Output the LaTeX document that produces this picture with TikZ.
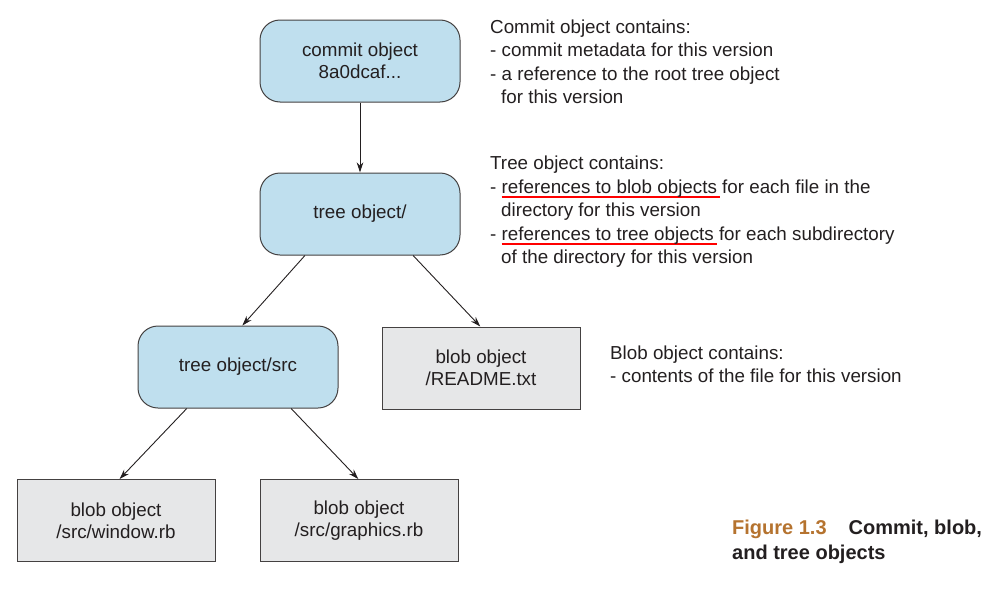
\documentclass[tikz,border=0pt]{standalone}
\usepackage{fontspec}
\setmainfont{Liberation Sans}
\usetikzlibrary{arrows.meta}
\definecolor{boxblue}{HTML}{BFDFEE}
\definecolor{boxgray}{HTML}{E6E7E8}
\definecolor{ink}{HTML}{231F20}
\definecolor{figbrown}{HTML}{B5732F}
\newcommand\redul[1]{\setbox0\hbox{#1}\rlap{\color{red}\rule[-5pt]{\dimexpr\wd0+3pt\relax}{1.7pt}}\box0\relax}
\begin{document}
\begin{tikzpicture}[x=1pt,y=-1pt,
  every node/.style={text=ink,font=\fontsize{18.8}{22}\selectfont},
  objbox/.style={draw=ink!85,line width=1pt,minimum width=200pt,minimum height=82pt,align=center,inner sep=0pt},
  treebox/.style={objbox,fill=boxblue,rounded corners=20pt},
  blobbox/.style={objbox,fill=boxgray,minimum width=198pt},
  note/.style={anchor=base west,align=left,inner sep=0pt,font=\fontsize{18.8}{23.5}\selectfont},
  link/.style={draw=ink,line width=0.9pt,-{Stealth[length=10pt,width=6.5pt]}}
]
\useasboundingbox (0,0) rectangle (996,589);
\node[treebox] (commit) at (360,61) {commit object\\8a0dcaf...};
\node[treebox] (tree) at (360,214) {tree object/};
\node[treebox] (src) at (238,367) {tree object/src};
\node[blobbox] (readme) at (481,368) {blob object\\/README.txt};
\node[blobbox] (window) at (116,520.5) {blob object\\/src/window.rb};
\node[blobbox] (graphics) at (359,520.5) {blob object\\/src/graphics.rb};

\draw[link] (commit) -- (tree);
\draw[link] (tree.-143.3) -- (src.84.7);
\draw[link] (tree.-38.8) -- (readme.91.4);
\draw[link] (src.-141.7) -- (window.85);
\draw[link] (src.-38.3) -- (graphics.91);

\node[note] (commitnote) at (490,103.5) {Commit object contains:\\- commit metadata for this version\\- a reference to the root tree object\\\hspace*{11pt}for this version};
\node[note] (treenote) at (490,263.5) {Tree object contains:\\- \redul{references to blob objects} for each file in the\\\hspace*{11pt}directory for this version\\- \redul{references to tree objects} for each subdirectory\\\hspace*{11pt}of the directory for this version};
\node[note] (blobnote) at (610,382.5) {Blob object contains:\\- contents of the file for this version};
\node[note,font=\fontsize{20}{25}\selectfont\bfseries] (caption) at (732,559) {\textcolor{figbrown}{Figure 1.3}\hspace{22pt}Commit, blob,\\and tree objects};
\end{tikzpicture}
\end{document}
